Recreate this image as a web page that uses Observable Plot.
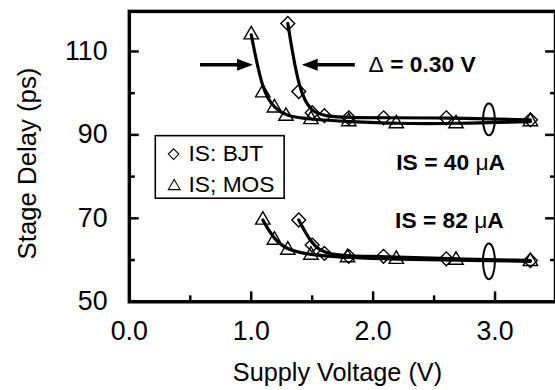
<!DOCTYPE html>
<html><head><meta charset="utf-8">
<script src="https://cdn.jsdelivr.net/npm/d3@7"></script>
<script src="https://cdn.jsdelivr.net/npm/@observablehq/plot@0.6"></script>
<style>html,body{margin:0;padding:0;background:#fff;overflow:hidden;}</style>
</head><body><div id="chart"></div>
<script>
// ---- data ----
const mos40V = [1.0, 1.095, 1.19, 1.285, 1.49, 1.8, 2.19, 2.68, 3.29];
const mos40D = [114.0, 100.1, 96.5, 94.5, 93.7, 93.2, 92.7, 92.7, 93.2];
const bjt40V = [1.30, 1.39, 1.50, 1.60, 1.80, 2.085, 2.6, 3.29];
const bjt40D = [116.7, 100.4, 95.3, 94.6, 94.1, 94.1, 94.1, 93.6];
const mos82V = [1.095, 1.19, 1.30, 1.49, 1.79, 2.19, 2.68, 3.29];
const mos82D = [69.6, 64.8, 62.4, 61.2, 60.6, 60.2, 60.0, 59.7];
const bjt82V = [1.39, 1.50, 1.60, 1.80, 2.085, 2.6, 3.29];
const bjt82D = [69.6, 63.6, 61.6, 60.9, 60.9, 60.3, 59.9];
const xTickValues = [0, 1, 2, 3];
const xMajorTicks = [1, 2, 3];
const xMinorTicks = [0.5, 1.5, 2.5];
const yTickValues = [50, 70, 90, 110];
const yMajorTicks = [70, 90, 110];
const yMinorTicks = [60, 80, 100];
const legendLabels = ["IS: BJT", "IS; MOS"];
const xTitle = "Supply Voltage (V)";
const yTitle = "Stage Delay (ps)";

// ---- layout ----
const W = 560, H = 390, ML = 130, MR = 0, MT = 11, MB = 86;
const X0 = 0, X1 = 3.496, Y0 = 50, Y1 = 119.6;
const kx = (W - ML - MR) / (X1 - X0), ky = (H - MT - MB) / (Y1 - Y0);

const pts = (xs, ys) => xs.map((x, i) => ({x, y: ys[i]}));
const mos40 = pts(mos40V, mos40D), bjt40 = pts(bjt40V, bjt40D);
const mos82 = pts(mos82V, mos82D), bjt82 = pts(bjt82V, bjt82D);

function ellipse(w, h) {
  const a = w / 2, b = h / 2, k = 0.5523;
  return {draw(ctx) {
    ctx.moveTo(a, 0);
    ctx.bezierCurveTo(a, b * k, a * k, b, 0, b);
    ctx.bezierCurveTo(-a * k, b, -a, b * k, -a, 0);
    ctx.bezierCurveTo(-a, -b * k, -a * k, -b, 0, -b);
    ctx.bezierCurveTo(a * k, -b, a, -b * k, a, 0);
    ctx.closePath();
  }};
}
const headRight = {draw(ctx) { ctx.moveTo(0, 0); ctx.lineTo(-16, -6); ctx.lineTo(-16, 6); ctx.closePath(); }};
const headLeft = {draw(ctx) { ctx.moveTo(0, 0); ctx.lineTo(16, -6); ctx.lineTo(16, 6); ctx.closePath(); }};

const font = "'Liberation Sans', Arial, Helvetica, sans-serif";
const lineOpts = {x: "x", y: "y", curve: "basis", stroke: "black", strokeWidth: 3.2};
const diaOpts = {x: "x", y: "y", symbol: "diamond2", r: 6.3, stroke: "black", fill: "none", strokeWidth: 1.4};
const triOpts = {x: "x", y: "y", symbol: "triangle", r: 5.4, stroke: "black", fill: "none", strokeWidth: 1.4};

const chart = Plot.plot({
  width: W, height: H,
  marginLeft: ML, marginRight: MR, marginTop: MT, marginBottom: MB,
  style: {fontFamily: font, background: "white", color: "black"},
  x: {domain: [X0, X1]},
  y: {domain: [Y0, Y1]},
  marks: [
    Plot.line(mos40, lineOpts),
    Plot.line(bjt40, lineOpts),
    Plot.line(mos82, lineOpts),
    Plot.line(bjt82, lineOpts),
    Plot.dot(mos40, triOpts),
    Plot.dot(mos82, triOpts),
    Plot.dot(bjt40, diaOpts),
    Plot.dot(bjt82, diaOpts),
    // grouping ellipses
    Plot.dot([{x: 2.95, y: 93.7}], {x: "x", y: "y", r: 1, symbol: ellipse(12, 32), fill: "none", stroke: "black", strokeWidth: 2}),
    Plot.dot([{x: 2.95, y: 59.7}], {x: "x", y: "y", r: 1, symbol: ellipse(12, 36), fill: "none", stroke: "black", strokeWidth: 2}),
    // arrows
    Plot.link([{a: 0.58, b: 0.95, y: 106.8}], {x1: "a", x2: "b", y1: "y", y2: "y", stroke: "black", strokeWidth: 3.5}),
    Plot.link([{a: 1.85, b: 1.47, y: 106.8}], {x1: "a", x2: "b", y1: "y", y2: "y", stroke: "black", strokeWidth: 3.5}),
    Plot.dot([{x: 1.014, y: 106.8}], {x: "x", y: "y", r: 1, symbol: headRight, fill: "black", stroke: "none"}),
    Plot.dot([{x: 1.415, y: 106.8}], {x: "x", y: "y", r: 1, symbol: headLeft, fill: "black", stroke: "none"}),
    // annotations
    Plot.text([{x: 1.963, y: 106.8, t: "Δ = 0.30 V"}], {x: "x", y: "y", text: "t", textAnchor: "start", fontSize: 23, fontWeight: "bold", fill: "black"}),
    Plot.text([{x: 2.19, y: 83.3, t: "IS = 40 μA"}], {x: "x", y: "y", text: "t", textAnchor: "start", fontSize: 23, fontWeight: "bold", fill: "black"}),
    Plot.text([{x: 2.18, y: 69.5, t: "IS = 82 μA"}], {x: "x", y: "y", text: "t", textAnchor: "start", fontSize: 23, fontWeight: "bold", fill: "black"}),
    // legend
    Plot.rect([{x1: 0.217, x2: 1.274, y1: 74.7, y2: 89.7}], {x1: "x1", x2: "x2", y1: "y1", y2: "y2", fill: "none", stroke: "black", strokeWidth: 1.6}),
    Plot.dot([{x: 0.363, y: 85.4}], {x: "x", y: "y", symbol: "diamond2", r: 4.8, stroke: "black", fill: "none", strokeWidth: 1.1}),
    Plot.dot([{x: 0.368, y: 77.7}], {x: "x", y: "y", symbol: "triangle", r: 4.4, stroke: "black", fill: "none", strokeWidth: 1.1}),
    Plot.text(legendLabels, {x: 0.485, y: (d, i) => i === 0 ? 85.4 : 78.0, text: d => d, textAnchor: "start", fontSize: 23, fill: "black"}),
    // ticks (inward)
    Plot.ruleX(xMajorTicks, {x: d => d, y1: Y0, y2: Y0 + 10 / ky, stroke: "black", strokeWidth: 2.5}),
    Plot.ruleX(xMinorTicks, {x: d => d, y1: Y0, y2: Y0 + 6 / ky, stroke: "black", strokeWidth: 2.5}),
    Plot.ruleY(yMajorTicks, {y: d => d, x1: X0, x2: X0 + 10 / kx, stroke: "black", strokeWidth: 2.5}),
    Plot.ruleY(yMinorTicks, {y: d => d, x1: X0, x2: X0 + 6 / kx, stroke: "black", strokeWidth: 2.5}),
    Plot.ruleY(yMajorTicks, {y: d => d, x1: X1 - 10 / kx, x2: X1, stroke: "black", strokeWidth: 2.5}),
    Plot.ruleY(yMinorTicks, {y: d => d, x1: X1 - 5 / kx, x2: X1, stroke: "black", strokeWidth: 2.5}),
    Plot.frame({stroke: "black", strokeWidth: 3.5}),
    // axes
    Plot.axisX({ticks: xTickValues, anchor: "bottom", tickSize: 0, tickPadding: 19, tickFormat: d => d.toFixed(1), fontSize: 27, label: null, fill: "black"}),
    Plot.axisY({ticks: yTickValues, anchor: "left", tickSize: 0, tickPadding: 22, fontSize: 27, label: null, fill: "black"}),
    Plot.text([xTitle], {text: d => d, frameAnchor: "bottom", textAnchor: "middle", lineAnchor: "middle", dy: 72, dx: -5, fontSize: 25.5, fill: "black"}),
    Plot.text([yTitle], {text: d => d, frameAnchor: "left", textAnchor: "middle", lineAnchor: "middle", rotate: -90, dx: -103, dy: 7, fontSize: 26, fill: "black"})
  ]
});

// regular-weight Greek glyphs inside bold annotations
chart.querySelectorAll("text").forEach(t => {
  const s = t.textContent;
  if (t.childElementCount === 0 && /[Δμ]/.test(s)) {
    t.textContent = "";
    for (const part of s.split(/([Δμ])/)) {
      if (!part) continue;
      const ts = document.createElementNS("http://www.w3.org/2000/svg", "tspan");
      ts.textContent = part;
      if (/[Δμ]/.test(part)) ts.setAttribute("font-weight", "normal");
      t.appendChild(ts);
    }
  }
});
document.getElementById("chart").appendChild(chart);
</script>
</body></html>
